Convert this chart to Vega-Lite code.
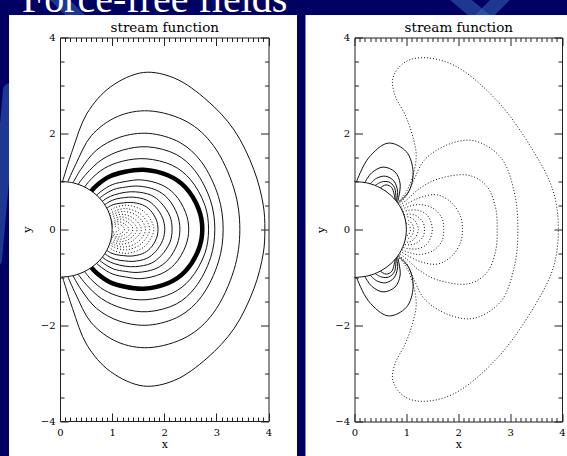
{
"$schema":"https://vega.github.io/schema/vega-lite/v6.json",
"autosize":{"type":"none"},
"padding":{"left":60,"top":37.5,"right":507,"bottom":418.5},
"background":"#000062",
"bounds":"flush",
"spacing":85.5,
"config":{
 "view":{"stroke":null},
 "axis":{"grid":false,"domainColor":"#222","tickColor":"#222","labelColor":"#000","titleColor":"#000","labelFont":"DejaVu Serif","titleFont":"DejaVu Serif","labelFontSize":10,"titleFontSize":11,"titleFontWeight":"normal","labelFlush":false,"labelOverlap":false,"domainWidth":1,"tickWidth":1}
},
"datasets":{
"deco":[{"s":1,"x":-1.247,"y":-0.641},{"s":1,"x":-0.959,"y":2.904},{"s":2,"x":-0.096,"y":4.886},{"s":2,"x":0.384,"y":4.365},{"s":3,"x":7.578,"y":4.886},{"s":3,"x":8.153,"y":4.365},{"s":4,"x":8.537,"y":4.886},{"s":4,"x":8.058,"y":4.365}],
"arc":[{"x":0,"y":1},{"x":0.259,"y":0.966},{"x":0.5,"y":0.866},{"x":0.707,"y":0.707},{"x":0.866,"y":0.5},{"x":0.966,"y":0.259},{"x":1,"y":0},{"x":0.966,"y":-0.259},{"x":0.866,"y":-0.5},{"x":0.707,"y":-0.707},{"x":0.5,"y":-0.866},{"x":0.259,"y":-0.966},{"x":0,"y":-1}],
"ls":[
{"c":1,"x":0.05,"y":1.0},{"c":1,"x":0.24,"y":1.65},{"c":1,"x":0.52,"y":2.42},{"c":1,"x":0.97,"y":2.97},{"c":1,"x":1.6,"y":3.27},{"c":1,"x":2.2,"y":3.15},{"c":1,"x":2.82,"y":2.69},{"c":1,"x":3.34,"y":2.07},{"c":1,"x":3.72,"y":1.24},{"c":1,"x":3.9,"y":0.5},{"c":1,"x":3.93,"y":0},{"c":1,"x":3.9,"y":-0.5},{"c":1,"x":3.72,"y":-1.24},{"c":1,"x":3.34,"y":-2.07},{"c":1,"x":2.82,"y":-2.69},{"c":1,"x":2.2,"y":-3.15},{"c":1,"x":1.6,"y":-3.27},{"c":1,"x":0.97,"y":-2.97},{"c":1,"x":0.52,"y":-2.42},{"c":1,"x":0.24,"y":-1.65},{"c":1,"x":0.05,"y":-1.0},
{"c":2,"x":0.15,"y":0.99},{"c":2,"x":0.3,"y":1.35},{"c":2,"x":0.6,"y":1.95},{"c":2,"x":1.1,"y":2.35},{"c":2,"x":1.7,"y":2.47},{"c":2,"x":2.44,"y":2.24},{"c":2,"x":2.94,"y":1.75},{"c":2,"x":3.34,"y":0.84},{"c":2,"x":3.45,"y":0},{"c":2,"x":3.34,"y":-0.84},{"c":2,"x":2.94,"y":-1.75},{"c":2,"x":2.44,"y":-2.24},{"c":2,"x":1.7,"y":-2.47},{"c":2,"x":1.1,"y":-2.35},{"c":2,"x":0.6,"y":-1.95},{"c":2,"x":0.3,"y":-1.35},{"c":2,"x":0.15,"y":-0.99},
{"c":3,"x":0.25,"y":0.97},{"c":3,"x":0.4,"y":1.25},{"c":3,"x":0.7,"y":1.65},{"c":3,"x":1.15,"y":1.92},{"c":3,"x":1.7,"y":2.0},{"c":3,"x":2.3,"y":1.81},{"c":3,"x":2.71,"y":1.41},{"c":3,"x":3.04,"y":0.68},{"c":3,"x":3.13,"y":0},{"c":3,"x":3.04,"y":-0.68},{"c":3,"x":2.71,"y":-1.41},{"c":3,"x":2.3,"y":-1.81},{"c":3,"x":1.7,"y":-2.0},{"c":3,"x":1.15,"y":-1.92},{"c":3,"x":0.7,"y":-1.65},{"c":3,"x":0.4,"y":-1.25},{"c":3,"x":0.25,"y":-0.97},
{"c":4,"x":0.35,"y":0.94},{"c":4,"x":0.5,"y":1.15},{"c":4,"x":0.8,"y":1.45},{"c":4,"x":1.2,"y":1.65},{"c":4,"x":1.68,"y":1.72},{"c":4,"x":2.23,"y":1.56},{"c":4,"x":2.59,"y":1.22},{"c":4,"x":2.89,"y":0.59},{"c":4,"x":2.97,"y":0},{"c":4,"x":2.89,"y":-0.59},{"c":4,"x":2.59,"y":-1.22},{"c":4,"x":2.23,"y":-1.56},{"c":4,"x":1.68,"y":-1.72},{"c":4,"x":1.2,"y":-1.65},{"c":4,"x":0.8,"y":-1.45},{"c":4,"x":0.5,"y":-1.15},{"c":4,"x":0.35,"y":-0.94},
{"c":5,"x":0.47,"y":0.88},{"c":5,"x":0.6,"y":1.05},{"c":5,"x":0.85,"y":1.27},{"c":5,"x":1.2,"y":1.42},{"c":5,"x":1.65,"y":1.47},{"c":5,"x":2.16,"y":1.33},{"c":5,"x":2.5,"y":1.04},{"c":5,"x":2.78,"y":0.5},{"c":5,"x":2.85,"y":0},{"c":5,"x":2.78,"y":-0.5},{"c":5,"x":2.5,"y":-1.04},{"c":5,"x":2.16,"y":-1.33},{"c":5,"x":1.65,"y":-1.47},{"c":5,"x":1.2,"y":-1.42},{"c":5,"x":0.85,"y":-1.27},{"c":5,"x":0.6,"y":-1.05},{"c":5,"x":0.47,"y":-0.88},
{"c":6,"x":0.7,"y":0.71},{"c":6,"x":0.8,"y":0.8},{"c":6,"x":1.0,"y":0.93},{"c":6,"x":1.28,"y":1.0},{"c":6,"x":1.55,"y":1.03},{"c":6,"x":1.94,"y":0.93},{"c":6,"x":2.2,"y":0.73},{"c":6,"x":2.41,"y":0.35},{"c":6,"x":2.47,"y":0},{"c":6,"x":2.41,"y":-0.35},{"c":6,"x":2.2,"y":-0.73},{"c":6,"x":1.94,"y":-0.93},{"c":6,"x":1.55,"y":-1.03},{"c":6,"x":1.28,"y":-1.0},{"c":6,"x":1.0,"y":-0.93},{"c":6,"x":0.8,"y":-0.8},{"c":6,"x":0.7,"y":-0.71},
{"c":7,"x":0.76,"y":0.65},{"c":7,"x":0.86,"y":0.73},{"c":7,"x":1.03,"y":0.83},{"c":7,"x":1.26,"y":0.88},{"c":7,"x":1.5,"y":0.9},{"c":7,"x":1.84,"y":0.82},{"c":7,"x":2.07,"y":0.64},{"c":7,"x":2.25,"y":0.31},{"c":7,"x":2.3,"y":0},{"c":7,"x":2.25,"y":-0.31},{"c":7,"x":2.07,"y":-0.64},{"c":7,"x":1.84,"y":-0.82},{"c":7,"x":1.5,"y":-0.9},{"c":7,"x":1.26,"y":-0.88},{"c":7,"x":1.03,"y":-0.83},{"c":7,"x":0.86,"y":-0.73},{"c":7,"x":0.76,"y":-0.65},
{"c":8,"x":0.81,"y":0.58},{"c":8,"x":0.9,"y":0.65},{"c":8,"x":1.05,"y":0.72},{"c":8,"x":1.25,"y":0.77},{"c":8,"x":1.45,"y":0.78},{"c":8,"x":1.75,"y":0.71},{"c":8,"x":1.94,"y":0.55},{"c":8,"x":2.11,"y":0.27},{"c":8,"x":2.15,"y":0},{"c":8,"x":2.11,"y":-0.27},{"c":8,"x":1.94,"y":-0.55},{"c":8,"x":1.75,"y":-0.71},{"c":8,"x":1.45,"y":-0.78},{"c":8,"x":1.25,"y":-0.77},{"c":8,"x":1.05,"y":-0.72},{"c":8,"x":0.9,"y":-0.65},{"c":8,"x":0.81,"y":-0.58},
{"c":9,"x":0.86,"y":0.51},{"c":9,"x":0.94,"y":0.57},{"c":9,"x":1.07,"y":0.63},{"c":9,"x":1.24,"y":0.66},{"c":9,"x":1.4,"y":0.67},{"c":9,"x":1.66,"y":0.61},{"c":9,"x":1.83,"y":0.47},{"c":9,"x":1.97,"y":0.23},{"c":9,"x":2.01,"y":0},{"c":9,"x":1.97,"y":-0.23},{"c":9,"x":1.83,"y":-0.47},{"c":9,"x":1.66,"y":-0.61},{"c":9,"x":1.4,"y":-0.67},{"c":9,"x":1.24,"y":-0.66},{"c":9,"x":1.07,"y":-0.63},{"c":9,"x":0.94,"y":-0.57},{"c":9,"x":0.86,"y":-0.51},
{"c":10,"x":0.9,"y":0.44},{"c":10,"x":0.97,"y":0.49},{"c":10,"x":1.08,"y":0.53},{"c":10,"x":1.22,"y":0.55},{"c":10,"x":1.36,"y":0.56},{"c":10,"x":1.58,"y":0.51},{"c":10,"x":1.73,"y":0.4},{"c":10,"x":1.85,"y":0.19},{"c":10,"x":1.88,"y":0},{"c":10,"x":1.85,"y":-0.19},{"c":10,"x":1.73,"y":-0.4},{"c":10,"x":1.58,"y":-0.51},{"c":10,"x":1.36,"y":-0.56},{"c":10,"x":1.22,"y":-0.55},{"c":10,"x":1.08,"y":-0.53},{"c":10,"x":0.97,"y":-0.49},{"c":10,"x":0.9,"y":-0.44}
],
"lt":[{"x":0.6,"y":0.8},{"x":0.72,"y":0.93},{"x":0.95,"y":1.1},{"x":1.25,"y":1.2},{"x":1.6,"y":1.24},{"x":2.08,"y":1.12},{"x":2.4,"y":0.88},{"x":2.66,"y":0.42},{"x":2.73,"y":0},{"x":2.66,"y":-0.42},{"x":2.4,"y":-0.88},{"x":2.08,"y":-1.12},{"x":1.6,"y":-1.24},{"x":1.25,"y":-1.2},{"x":0.95,"y":-1.1},{"x":0.72,"y":-0.93},{"x":0.6,"y":-0.8}],
"ld":[
{"c":1,"x":0.93,"y":0.37},{"c":1,"x":1.05,"y":0.45},{"c":1,"x":1.3,"y":0.5},{"c":1,"x":1.62,"y":0.36},{"c":1,"x":1.8,"y":0},{"c":1,"x":1.62,"y":-0.36},{"c":1,"x":1.3,"y":-0.5},{"c":1,"x":1.05,"y":-0.45},{"c":1,"x":0.93,"y":-0.37},
{"c":2,"x":0.95,"y":0.32},{"c":2,"x":1.05,"y":0.38},{"c":2,"x":1.27,"y":0.43},{"c":2,"x":1.55,"y":0.31},{"c":2,"x":1.72,"y":0},{"c":2,"x":1.55,"y":-0.31},{"c":2,"x":1.27,"y":-0.43},{"c":2,"x":1.05,"y":-0.38},{"c":2,"x":0.95,"y":-0.32},
{"c":3,"x":0.96,"y":0.28},{"c":3,"x":1.05,"y":0.33},{"c":3,"x":1.24,"y":0.37},{"c":3,"x":1.49,"y":0.27},{"c":3,"x":1.64,"y":0},{"c":3,"x":1.49,"y":-0.27},{"c":3,"x":1.24,"y":-0.37},{"c":3,"x":1.05,"y":-0.33},{"c":3,"x":0.96,"y":-0.28},
{"c":4,"x":0.97,"y":0.24},{"c":4,"x":1.05,"y":0.28},{"c":4,"x":1.21,"y":0.31},{"c":4,"x":1.42,"y":0.22},{"c":4,"x":1.56,"y":0},{"c":4,"x":1.42,"y":-0.22},{"c":4,"x":1.21,"y":-0.31},{"c":4,"x":1.05,"y":-0.28},{"c":4,"x":0.97,"y":-0.24},
{"c":5,"x":0.98,"y":0.2},{"c":5,"x":1.05,"y":0.23},{"c":5,"x":1.18,"y":0.26},{"c":5,"x":1.36,"y":0.18},{"c":5,"x":1.48,"y":0},{"c":5,"x":1.36,"y":-0.18},{"c":5,"x":1.18,"y":-0.26},{"c":5,"x":1.05,"y":-0.23},{"c":5,"x":0.98,"y":-0.2},
{"c":6,"x":0.99,"y":0.16},{"c":6,"x":1.05,"y":0.18},{"c":6,"x":1.15,"y":0.21},{"c":6,"x":1.3,"y":0.15},{"c":6,"x":1.4,"y":0},{"c":6,"x":1.3,"y":-0.15},{"c":6,"x":1.15,"y":-0.21},{"c":6,"x":1.05,"y":-0.18},{"c":6,"x":0.99,"y":-0.16},
{"c":7,"x":0.99,"y":0.12},{"c":7,"x":1.04,"y":0.14},{"c":7,"x":1.12,"y":0.16},{"c":7,"x":1.24,"y":0.11},{"c":7,"x":1.32,"y":0},{"c":7,"x":1.24,"y":-0.11},{"c":7,"x":1.12,"y":-0.16},{"c":7,"x":1.04,"y":-0.14},{"c":7,"x":0.99,"y":-0.12},
{"c":8,"x":0.995,"y":0.09},{"c":8,"x":1.03,"y":0.1},{"c":8,"x":1.09,"y":0.11},{"c":8,"x":1.18,"y":0.08},{"c":8,"x":1.24,"y":0},{"c":8,"x":1.18,"y":-0.08},{"c":8,"x":1.09,"y":-0.11},{"c":8,"x":1.03,"y":-0.1},{"c":8,"x":0.995,"y":-0.09},
{"c":9,"x":1.0,"y":0.05},{"c":9,"x":1.06,"y":0.06},{"c":9,"x":1.14,"y":0},{"c":9,"x":1.06,"y":-0.06},{"c":9,"x":1.0,"y":-0.05}
],
"rs":[
{"c":1,"x":0.04,"y":1.0},{"c":1,"x":0.27,"y":1.49},{"c":1,"x":0.65,"y":1.8},{"c":1,"x":1.0,"y":1.62},{"c":1,"x":1.13,"y":1.2},{"c":1,"x":1.05,"y":0.8},{"c":1,"x":0.84,"y":0.55},
{"c":2,"x":0.2,"y":0.98},{"c":2,"x":0.33,"y":1.18},{"c":2,"x":0.55,"y":1.3},{"c":2,"x":0.78,"y":1.2},{"c":2,"x":0.88,"y":0.95},{"c":2,"x":0.83,"y":0.57},
{"c":3,"x":0.3,"y":0.95},{"c":3,"x":0.43,"y":1.07},{"c":3,"x":0.6,"y":1.11},{"c":3,"x":0.76,"y":1.01},{"c":3,"x":0.83,"y":0.8},{"c":3,"x":0.81,"y":0.59},
{"c":4,"x":0.4,"y":0.92},{"c":4,"x":0.52,"y":0.99},{"c":4,"x":0.66,"y":0.99},{"c":4,"x":0.77,"y":0.88},{"c":4,"x":0.8,"y":0.6},
{"c":5,"x":0.5,"y":0.87},{"c":5,"x":0.61,"y":0.93},{"c":5,"x":0.72,"y":0.87},{"c":5,"x":0.78,"y":0.63},
{"c":6,"x":0.04,"y":-1.0},{"c":6,"x":0.27,"y":-1.49},{"c":6,"x":0.65,"y":-1.8},{"c":6,"x":1.0,"y":-1.62},{"c":6,"x":1.13,"y":-1.2},{"c":6,"x":1.05,"y":-0.8},{"c":6,"x":0.84,"y":-0.55},
{"c":7,"x":0.2,"y":-0.98},{"c":7,"x":0.33,"y":-1.18},{"c":7,"x":0.55,"y":-1.3},{"c":7,"x":0.78,"y":-1.2},{"c":7,"x":0.88,"y":-0.95},{"c":7,"x":0.83,"y":-0.57},
{"c":8,"x":0.3,"y":-0.95},{"c":8,"x":0.43,"y":-1.07},{"c":8,"x":0.6,"y":-1.11},{"c":8,"x":0.76,"y":-1.01},{"c":8,"x":0.83,"y":-0.8},{"c":8,"x":0.81,"y":-0.59},
{"c":9,"x":0.4,"y":-0.92},{"c":9,"x":0.52,"y":-0.99},{"c":9,"x":0.66,"y":-0.99},{"c":9,"x":0.77,"y":-0.88},{"c":9,"x":0.8,"y":-0.6},
{"c":10,"x":0.5,"y":-0.87},{"c":10,"x":0.61,"y":-0.93},{"c":10,"x":0.72,"y":-0.87},{"c":10,"x":0.78,"y":-0.63}
],
"rd":[
{"c":1,"x":0.83,"y":0.56},{"c":1,"x":0.98,"y":0.75},{"c":1,"x":1.12,"y":1.1},{"c":1,"x":1.19,"y":1.55},{"c":1,"x":1.12,"y":1.95},{"c":1,"x":0.98,"y":2.38},{"c":1,"x":0.78,"y":2.8},{"c":1,"x":0.74,"y":3.15},{"c":1,"x":0.95,"y":3.47},{"c":1,"x":1.3,"y":3.58},{"c":1,"x":1.92,"y":3.42},{"c":1,"x":2.75,"y":2.68},{"c":1,"x":3.45,"y":1.63},{"c":1,"x":3.83,"y":0.8},{"c":1,"x":3.93,"y":0},{"c":1,"x":3.83,"y":-0.8},{"c":1,"x":3.45,"y":-1.63},{"c":1,"x":2.75,"y":-2.68},{"c":1,"x":1.92,"y":-3.42},{"c":1,"x":1.3,"y":-3.58},{"c":1,"x":0.95,"y":-3.47},{"c":1,"x":0.74,"y":-3.15},{"c":1,"x":0.78,"y":-2.8},{"c":1,"x":0.98,"y":-2.38},{"c":1,"x":1.12,"y":-1.95},{"c":1,"x":1.19,"y":-1.55},{"c":1,"x":1.12,"y":-1.1},{"c":1,"x":0.98,"y":-0.75},{"c":1,"x":0.83,"y":-0.56},
{"c":2,"x":0.85,"y":0.53},{"c":2,"x":1.0,"y":0.7},{"c":2,"x":1.15,"y":1.05},{"c":2,"x":1.35,"y":1.45},{"c":2,"x":1.8,"y":1.77},{"c":2,"x":2.3,"y":1.85},{"c":2,"x":2.82,"y":1.5},{"c":2,"x":3.08,"y":0.78},{"c":2,"x":3.15,"y":0},{"c":2,"x":3.08,"y":-0.78},{"c":2,"x":2.82,"y":-1.5},{"c":2,"x":2.3,"y":-1.85},{"c":2,"x":1.8,"y":-1.77},{"c":2,"x":1.35,"y":-1.45},{"c":2,"x":1.15,"y":-1.05},{"c":2,"x":1.0,"y":-0.7},{"c":2,"x":0.85,"y":-0.53},
{"c":3,"x":0.87,"y":0.5},{"c":3,"x":1.02,"y":0.63},{"c":3,"x":1.25,"y":0.85},{"c":3,"x":1.6,"y":1.05},{"c":3,"x":2.2,"y":1.13},{"c":3,"x":2.55,"y":0.9},{"c":3,"x":2.72,"y":0.45},{"c":3,"x":2.75,"y":0},{"c":3,"x":2.72,"y":-0.45},{"c":3,"x":2.55,"y":-0.9},{"c":3,"x":2.2,"y":-1.13},{"c":3,"x":1.6,"y":-1.05},{"c":3,"x":1.25,"y":-0.85},{"c":3,"x":1.02,"y":-0.63},{"c":3,"x":0.87,"y":-0.5},
{"c":4,"x":0.89,"y":0.46},{"c":4,"x":1.05,"y":0.56},{"c":4,"x":1.3,"y":0.68},{"c":4,"x":1.6,"y":0.72},{"c":4,"x":1.88,"y":0.55},{"c":4,"x":2.05,"y":0.25},{"c":4,"x":2.08,"y":0},{"c":4,"x":2.05,"y":-0.25},{"c":4,"x":1.88,"y":-0.55},{"c":4,"x":1.6,"y":-0.72},{"c":4,"x":1.3,"y":-0.68},{"c":4,"x":1.05,"y":-0.56},{"c":4,"x":0.89,"y":-0.46},
{"c":5,"x":0.91,"y":0.42},{"c":5,"x":1.05,"y":0.48},{"c":5,"x":1.25,"y":0.52},{"c":5,"x":1.5,"y":0.45},{"c":5,"x":1.68,"y":0.25},{"c":5,"x":1.72,"y":0},{"c":5,"x":1.68,"y":-0.25},{"c":5,"x":1.5,"y":-0.45},{"c":5,"x":1.25,"y":-0.52},{"c":5,"x":1.05,"y":-0.48},{"c":5,"x":0.91,"y":-0.42},
{"c":6,"x":0.93,"y":0.37},{"c":6,"x":1.05,"y":0.4},{"c":6,"x":1.22,"y":0.4},{"c":6,"x":1.4,"y":0.3},{"c":6,"x":1.5,"y":0},{"c":6,"x":1.4,"y":-0.3},{"c":6,"x":1.22,"y":-0.4},{"c":6,"x":1.05,"y":-0.4},{"c":6,"x":0.93,"y":-0.37},
{"c":7,"x":0.95,"y":0.31},{"c":7,"x":1.06,"y":0.32},{"c":7,"x":1.2,"y":0.28},{"c":7,"x":1.32,"y":0.15},{"c":7,"x":1.35,"y":0},{"c":7,"x":1.32,"y":-0.15},{"c":7,"x":1.2,"y":-0.28},{"c":7,"x":1.06,"y":-0.32},{"c":7,"x":0.95,"y":-0.31},
{"c":8,"x":0.96,"y":0.26},{"c":8,"x":1.05,"y":0.26},{"c":8,"x":1.15,"y":0.2},{"c":8,"x":1.23,"y":0},{"c":8,"x":1.15,"y":-0.2},{"c":8,"x":1.05,"y":-0.26},{"c":8,"x":0.96,"y":-0.26},
{"c":9,"x":0.98,"y":0.2},{"c":9,"x":1.05,"y":0.18},{"c":9,"x":1.12,"y":0.1},{"c":9,"x":1.14,"y":0},{"c":9,"x":1.12,"y":-0.1},{"c":9,"x":1.05,"y":-0.18},{"c":9,"x":0.98,"y":-0.2},
{"c":10,"x":0.99,"y":0.13},{"c":10,"x":1.04,"y":0.11},{"c":10,"x":1.08,"y":0},{"c":10,"x":1.04,"y":-0.11},{"c":10,"x":0.99,"y":-0.13}
]
},
"hconcat":[
{
 "width":208.5,"height":383.5,
 "resolve":{"axis":{"x":"independent","y":"independent"}},
 "layer":[
  {"data":{"name":"deco"},"mark":{"type":"line","stroke":"#3566b8","strokeWidth":14,"strokeOpacity":0.55,"strokeCap":"round"},
   "encoding":{"x":{"field":"x","type":"quantitative","scale":{"domain":[0,4],"nice":false,"zero":false},"axis":null},"y":{"field":"y","type":"quantitative","scale":{"domain":[-4,4],"nice":false,"zero":false},"axis":null},"detail":{"field":"s","type":"nominal"},"order":{"value":null}}},
  {"data":{"values":[{}]},"mark":{"type":"text","text":"Force-free fields","font":"Liberation Serif","fontSize":40,"color":"#ffffff","align":"left","baseline":"alphabetic"},
   "encoding":{"x":{"datum":-0.73,"type":"quantitative","axis":null},"y":{"datum":4.53,"type":"quantitative","axis":null}}},
  {"data":{"values":[{}]},"mark":{"type":"rect","fill":"#ffffff"},
   "encoding":{"x":{"datum":-0.978,"type":"quantitative","axis":null},"x2":{"datum":4.547},"y":{"datum":4.469,"type":"quantitative","axis":null},"y2":{"datum":-4.9}}},
  {"data":{"name":"arc"},"mark":{"type":"line","interpolate":"catmull-rom","stroke":"#111","strokeWidth":1},
   "encoding":{"x":{"field":"x","type":"quantitative","axis":{"zindex":2,"orient":"top","title":"stream function","titleFontSize":13.5,"titlePadding":3,"labels":false,"values":[0,0.1,0.2,0.3,0.4,0.5,0.6,0.7,0.8,0.9,1,1.1,1.2,1.3,1.4,1.5,1.6,1.7,1.8,1.9,2,2.1,2.2,2.3,2.4,2.5,2.6,2.7,2.8,2.9,3,3.1,3.2,3.3,3.4,3.5,3.6,3.7,3.8,3.9,4],"tickSize":{"condition":{"test":"datum.value == round(datum.value)","value":-8},"value":-4}}},
    "y":{"field":"y","type":"quantitative","axis":{"zindex":2,"orient":"right","title":null,"labels":false,"values":[-4,-3.5,-3,-2.5,-2,-1.5,-1,-0.5,0,0.5,1,1.5,2,2.5,3,3.5,4],"tickSize":{"condition":{"test":"datum.value % 2 == 0","value":-8},"value":-4}}},
    "order":{"value":null}}},
  {"data":{"name":"ls"},"mark":{"type":"line","interpolate":"catmull-rom","stroke":"#111","strokeWidth":1},
   "encoding":{"x":{"field":"x","type":"quantitative","axis":{"zindex":2,"orient":"bottom","title":"x","labelPadding":14,"titlePadding":-3,"values":[0,0.1,0.2,0.3,0.4,0.5,0.6,0.7,0.8,0.9,1,1.1,1.2,1.3,1.4,1.5,1.6,1.7,1.8,1.9,2,2.1,2.2,2.3,2.4,2.5,2.6,2.7,2.8,2.9,3,3.1,3.2,3.3,3.4,3.5,3.6,3.7,3.8,3.9,4],"labelExpr":"datum.value == round(datum.value) ? format(datum.value, 'd') : ''","tickSize":{"condition":{"test":"datum.value == round(datum.value)","value":-8},"value":-4}}},
    "y":{"field":"y","type":"quantitative","axis":{"zindex":2,"orient":"left","title":"y","labelPadding":13,"titlePadding":8,"values":[-4,-3.5,-3,-2.5,-2,-1.5,-1,-0.5,0,0.5,1,1.5,2,2.5,3,3.5,4],"labelExpr":"datum.value % 2 == 0 ? format(datum.value, 'd') : ''","tickSize":{"condition":{"test":"datum.value % 2 == 0","value":-8},"value":-4}}},
    "detail":{"field":"c","type":"nominal"},"order":{"value":null}}},
  {"data":{"name":"lt"},"mark":{"type":"line","interpolate":"catmull-rom","stroke":"#000","strokeWidth":4.5},
   "encoding":{"x":{"field":"x","type":"quantitative","axis":null},"y":{"field":"y","type":"quantitative","axis":null},"order":{"value":null}}},
  {"data":{"name":"ld"},"mark":{"type":"line","interpolate":"catmull-rom","stroke":"#111","strokeWidth":1,"strokeDash":[1,2]},
   "encoding":{"x":{"field":"x","type":"quantitative","axis":null},"y":{"field":"y","type":"quantitative","axis":null},"detail":{"field":"c","type":"nominal"},"order":{"value":null}}}
 ]
},
{
 "width":207.5,"height":384,
 "resolve":{"axis":{"x":"independent","y":"independent"}},
 "layer":[
  {"data":{"values":[{}]},"mark":{"type":"rect","fill":"#ffffff"},
   "encoding":{"x":{"datum":-0.945,"type":"quantitative","scale":{"domain":[0,4],"nice":false,"zero":false},"axis":null},"x2":{"datum":4.4},"y":{"datum":4.469,"type":"quantitative","scale":{"domain":[-4,4],"nice":false,"zero":false},"axis":null},"y2":{"datum":-4.9}}},
  {"data":{"name":"arc"},"mark":{"type":"line","interpolate":"catmull-rom","stroke":"#111","strokeWidth":1},
   "encoding":{"x":{"field":"x","type":"quantitative","axis":{"zindex":2,"orient":"top","title":"stream function","titleFontSize":13.5,"titlePadding":3,"labels":false,"values":[0,0.1,0.2,0.3,0.4,0.5,0.6,0.7,0.8,0.9,1,1.1,1.2,1.3,1.4,1.5,1.6,1.7,1.8,1.9,2,2.1,2.2,2.3,2.4,2.5,2.6,2.7,2.8,2.9,3,3.1,3.2,3.3,3.4,3.5,3.6,3.7,3.8,3.9,4],"tickSize":{"condition":{"test":"datum.value == round(datum.value)","value":-8},"value":-4}}},
    "y":{"field":"y","type":"quantitative","axis":{"zindex":2,"orient":"right","title":null,"labels":false,"values":[-4,-3.5,-3,-2.5,-2,-1.5,-1,-0.5,0,0.5,1,1.5,2,2.5,3,3.5,4],"tickSize":{"condition":{"test":"datum.value % 2 == 0","value":-8},"value":-4}}},
    "order":{"value":null}}},
  {"data":{"name":"rs"},"mark":{"type":"line","interpolate":"catmull-rom","stroke":"#111","strokeWidth":1},
   "encoding":{"x":{"field":"x","type":"quantitative","axis":{"zindex":2,"orient":"bottom","title":"x","labelPadding":14,"titlePadding":-3,"values":[0,0.1,0.2,0.3,0.4,0.5,0.6,0.7,0.8,0.9,1,1.1,1.2,1.3,1.4,1.5,1.6,1.7,1.8,1.9,2,2.1,2.2,2.3,2.4,2.5,2.6,2.7,2.8,2.9,3,3.1,3.2,3.3,3.4,3.5,3.6,3.7,3.8,3.9,4],"labelExpr":"datum.value == round(datum.value) ? format(datum.value, 'd') : ''","tickSize":{"condition":{"test":"datum.value == round(datum.value)","value":-8},"value":-4}}},
    "y":{"field":"y","type":"quantitative","axis":{"zindex":2,"orient":"left","title":"y","labelPadding":13,"titlePadding":8,"values":[-4,-3.5,-3,-2.5,-2,-1.5,-1,-0.5,0,0.5,1,1.5,2,2.5,3,3.5,4],"labelExpr":"datum.value % 2 == 0 ? format(datum.value, 'd') : ''","tickSize":{"condition":{"test":"datum.value % 2 == 0","value":-8},"value":-4}}},
    "detail":{"field":"c","type":"nominal"},"order":{"value":null}}},
  {"data":{"name":"rd"},"mark":{"type":"line","interpolate":"catmull-rom","stroke":"#111","strokeWidth":1,"strokeDash":[1,2]},
   "encoding":{"x":{"field":"x","type":"quantitative","axis":null},"y":{"field":"y","type":"quantitative","axis":null},"detail":{"field":"c","type":"nominal"},"order":{"value":null}}}
 ]
}
]
}
